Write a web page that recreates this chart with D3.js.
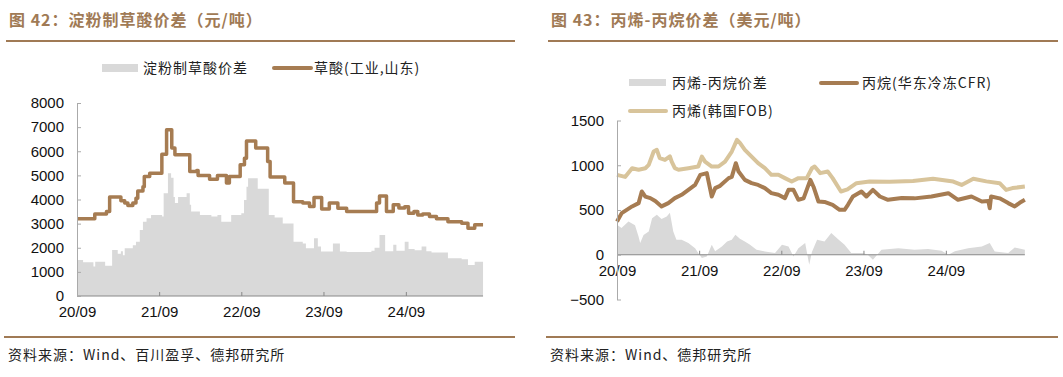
<html>
<head>
  <meta charset="utf-8">
  <title>价差图</title>
  <script src="https://d3js.org/d3.v7.min.js"></script>
  <style type="text/css">
    body { margin: 0; background: #fff; }
    text { font-family: "Liberation Sans", Arial, sans-serif; }
    .title { font-family: "Noto Sans CJK SC", sans-serif; font-weight: bold; font-size: 16px; fill: #a07a55; letter-spacing: 1px; }
    .legend { font-family: "Noto Sans CJK SC", sans-serif; font-size: 14px; fill: #222; letter-spacing: 1px; }
    .source { font-family: "Noto Sans CJK SC", sans-serif; font-size: 14px; fill: #222; letter-spacing: 1px; }
    .tick text { font-size: 15px; fill: #111; }
  </style>
</head>
<body>
<script>
// ---- 图42 数据 ----
var oxDates = ["2020-09-01","2020-11-19","2021-01-10","2021-01-24","2021-02-24","2021-03-15","2021-04-01","2021-04-15",
  "2021-05-07","2021-05-21","2021-05-29","2021-06-21","2021-06-27","2021-07-21","2021-09-13","2021-10-04","2021-10-27",
  "2021-11-10","2022-01-15","2022-02-15","2022-02-21","2022-04-13","2022-05-18","2022-06-27","2022-07-10","2022-08-27",
  "2022-09-15","2022-09-24","2022-11-04","2022-12-27","2023-01-07","2023-03-13","2023-04-21","2023-06-01","2023-07-01",
  "2023-07-21","2023-08-24","2023-09-27","2023-11-04","2023-12-13","2024-04-01","2024-04-24","2024-05-07","2024-06-07",
  "2024-07-07","2024-08-01","2024-08-27","2024-09-13","2024-10-07","2024-10-24","2024-11-15","2024-12-15","2025-01-15",
  "2025-03-07","2025-05-07","2025-06-04","2025-07-04","2025-08-10"];
var oxPrice = [3200,3400,3500,4100,4100,3950,3850,3750,3850,4050,4350,4530,4950,5090,5880,6890,6130,5850,5160,5200,4990,
  4840,5000,4680,4950,5440,5710,6430,6130,5570,4930,4680,3910,3850,3710,4080,3610,3850,3640,3500,3500,3850,4150,3500,
  3780,3650,3700,3430,3500,3360,3400,3300,3200,3080,3020,2810,2950,2950];

var spDates = ["2020-09-01","2020-09-28","2020-11-13","2020-11-21","2021-01-04","2021-02-04","2021-03-01","2021-03-15",
  "2021-03-24","2021-04-01","2021-05-07","2021-05-21","2021-06-07","2021-06-21","2021-07-07","2021-07-27","2021-09-14",
  "2021-09-21","2021-10-10","2021-10-24","2021-11-04","2021-11-10","2021-11-24","2022-01-01","2022-01-15","2022-01-21",
  "2022-03-01","2022-04-21","2022-05-18","2022-06-04","2022-07-18","2022-09-01","2022-09-13","2022-09-24","2022-10-01",
  "2022-11-13","2023-01-01","2023-01-27","2023-03-04","2023-04-21","2023-06-01","2023-06-15","2023-07-21","2023-08-07",
  "2023-08-21","2023-10-13","2023-11-13","2023-12-13","2024-04-01","2024-04-15","2024-05-07","2024-06-01","2024-07-07",
  "2024-07-21","2024-08-27","2024-09-13","2024-10-10","2024-11-10","2024-12-01","2024-12-24","2025-03-07","2025-05-07",
  "2025-06-04","2025-07-04","2025-08-10"];
var spValue = [1490,1400,1220,1420,1250,1910,1750,1850,1690,1980,2100,2250,2740,3080,3220,3360,3300,4260,5090,4900,4100,
  3850,4100,4260,3780,3500,3360,3300,3360,3080,3360,3430,3980,4530,4880,4450,3360,3250,3010,2250,2180,1980,2390,2050,
  1840,2180,1840,1820,1880,2000,2530,1850,2120,1880,2250,1950,1900,2050,1850,1800,1560,1520,1290,1420,1380];

var leftYTicks = [0,1000,2000,3000,4000,5000,6000,7000,8000];

// ---- 图43 数据 ----
var fobDates = ["2020-09-01","2020-10-07","2020-11-07","2020-12-06","2021-01-05","2021-01-20","2021-02-11","2021-02-25",
  "2021-03-10","2021-04-02","2021-04-24","2021-05-02","2021-05-16","2021-06-01","2021-07-15","2021-08-28","2021-09-13",
  "2021-09-27","2021-10-27","2021-11-26","2021-12-25","2022-01-24","2022-02-16","2022-03-01","2022-03-23","2022-04-22",
  "2022-05-21","2022-06-20","2022-07-19","2022-08-19","2022-09-17","2022-10-17","2022-11-16","2022-12-23","2023-01-15",
  "2023-01-27","2023-02-21","2023-03-26","2023-04-17","2023-05-24","2023-06-22","2023-08-01","2023-09-28","2023-12-26",
  "2024-04-08","2024-07-06","2024-10-04","2024-11-10","2025-01-01","2025-02-28","2025-04-28","2025-05-27","2025-06-24",
  "2025-08-18"];
var fobValue = [893,870,967,950,967,1004,1153,1172,1079,1060,1100,1040,967,950,967,986,1097,1040,986,986,1041,1153,1283,
  1250,1172,1097,1023,967,893,893,856,818,856,856,967,986,912,930,856,707,730,800,818,815,825,850,818,780,850,820,800,
  725,745,762];

var cfrDates = ["2020-09-01","2020-09-22","2020-11-07","2020-12-06","2020-12-20","2021-01-05","2021-01-27","2021-02-18",
  "2021-03-18","2021-04-17","2021-05-16","2021-06-15","2021-07-15","2021-08-14","2021-09-06","2021-10-05","2021-10-27",
  "2021-11-11","2021-12-03","2022-01-10","2022-01-24","2022-02-11","2022-02-23","2022-03-23","2022-04-22","2022-05-21",
  "2022-06-20","2022-07-19","2022-08-19","2022-09-17","2022-10-03","2022-10-25","2022-11-16","2022-12-09","2023-01-08",
  "2023-01-22","2023-02-13","2023-03-12","2023-04-17","2023-05-18","2023-06-09","2023-06-24","2023-07-16","2023-08-23",
  "2023-09-14","2023-10-13","2023-11-13","2023-12-19","2024-02-18","2024-04-15","2024-06-29","2024-09-12","2024-10-25",
  "2024-12-24","2025-02-08","2025-03-09","2025-03-15","2025-03-21","2025-04-28","2025-06-05","2025-07-04","2025-07-26",
  "2025-08-18"];
var cfrValue = [372,465,540,577,707,650,633,600,540,577,633,670,725,781,893,912,651,744,770,856,870,1023,930,837,800,780,
  744,688,670,633,725,725,614,630,837,760,595,590,558,502,502,558,651,707,651,725,651,614,633,630,651,688,614,651,595,
  600,520,651,630,577,540,580,614];

var gapDates = ["2020-09-01","2020-09-21","2020-10-22","2020-11-20","2020-12-06","2020-12-13","2020-12-28","2021-01-20",
  "2021-02-04","2021-02-25","2021-03-18","2021-04-10","2021-04-24","2021-05-09","2021-05-23","2021-06-15","2021-07-15",
  "2021-08-14","2021-08-28","2021-09-13","2021-10-05","2021-10-27","2021-11-11","2021-12-11","2022-01-03","2022-01-24",
  "2022-02-09","2022-03-01","2022-03-23","2022-04-15","2022-05-14","2022-06-20","2022-08-04","2022-09-04","2022-10-03",
  "2022-10-25","2022-11-16","2022-12-16","2023-01-03","2023-01-15","2023-02-07","2023-03-12","2023-04-11","2023-05-09",
  "2023-06-09","2023-07-09","2023-08-30","2023-09-20","2023-10-13","2023-11-20","2024-02-03","2024-04-15","2024-06-14",
  "2024-08-13","2024-09-12","2024-10-11","2024-12-09","2025-02-08","2025-03-15","2025-04-06","2025-06-05","2025-07-04",
  "2025-08-18"];
var gapValue = [335,300,372,330,200,130,220,260,409,446,400,428,470,260,167,167,130,74,20,-37,-20,112,40,93,149,167,223,
  180,149,112,56,37,20,112,93,-19,74,130,-112,30,167,149,242,180,112,19,19,0,-56,56,74,56,65,45,0,40,74,93,130,37,20,
  82,56];

var rightYTicks = [-500,0,500,1000,1500];
var yearTicks = ["2020-09-01","2021-09-01","2022-09-01","2023-09-01","2024-09-01"];

var brown = "#a67c52",
    light = "#d8c49b",
    grey = "#d9d9d9",
    titleColor = "#a07a55";

var parse = d3.timeParse("%Y-%m-%d");
function zip(ds, vs) { return ds.map(function(d, i) { return { date: parse(d), value: vs[i] }; }); }

var svg = d3.select("body").append("svg")
    .attr("width", 1063)
    .attr("height", 377);

// titles and rules
function frame(x0, x1, title, source) {
  svg.append("text").attr("class", "title").attr("x", x0 + 3).attr("y", 26).text(title);
  svg.append("line").attr("x1", x0).attr("x2", x1).attr("y1", 41).attr("y2", 41)
    .attr("stroke", titleColor).attr("stroke-width", 2);
  svg.append("line").attr("x1", x0 - 2).attr("x2", x1).attr("y1", 337).attr("y2", 337)
    .attr("stroke", titleColor).attr("stroke-width", 2);
  svg.append("text").attr("class", "source").attr("x", x0 + 2).attr("y", 360).text(source);
}
frame(6, 515, "图 42：淀粉制草酸价差（元/吨）", "资料来源：Wind、百川盈孚、德邦研究所");
frame(548, 1058, "图 43：丙烯-丙烷价差（美元/吨）", "资料来源：Wind、德邦研究所");

function axes(g, x, y, yTicks, baseY, xEnd) {
  var xa = g.append("g").attr("transform", "translate(0," + baseY + ")")
    .call(d3.axisBottom(x).tickValues(yearTicks.map(parse)).tickFormat(d3.timeFormat("%y/%m"))
      .tickSize(-4).tickSizeOuter(0).tickPadding(8));
  xa.select(".domain").remove();
  xa.append("line").attr("x1", x.range()[0]).attr("x2", xEnd).attr("stroke", "#888");
  xa.selectAll(".tick line").attr("stroke", "#888");
  xa.selectAll(".tick text").attr("dy", "0.85em");

  var ya = g.append("g").attr("transform", "translate(" + x.range()[0] + ",0)")
    .call(d3.axisLeft(y).tickValues(yTicks).tickFormat(d3.format("d"))
      .tickSize(-4).tickSizeOuter(0).tickPadding(13));
  ya.select(".domain").attr("stroke", "#aaa");
  ya.selectAll(".tick line").attr("stroke", "#aaa");
}

// ---- 左图 ----
var ox = zip(oxDates, oxPrice), sp = zip(spDates, spValue);
var xL = d3.scaleTime().domain([parse("2020-09-01"), parse("2025-09-01")]).range([77, 488]);
var yL = d3.scaleLinear().domain([0, 8000]).range([296, 103]);
var gL = svg.append("g");

gL.append("path").datum(sp)
  .attr("fill", grey)
  .attr("d", d3.area().curve(d3.curveStepAfter).x(function(d) { return xL(d.date); })
    .y0(yL(0)).y1(function(d) { return yL(d.value); }));
gL.append("path").datum(ox)
  .attr("fill", "none").attr("stroke", brown).attr("stroke-width", 3.5).attr("stroke-linejoin", "round")
  .attr("d", d3.line().curve(d3.curveStepAfter).x(function(d) { return xL(d.date); })
    .y(function(d) { return yL(d.value); }));
axes(gL, xL, yL, leftYTicks, 296, xL(parse(oxDates[oxDates.length - 1])));

// legend left
svg.append("rect").attr("x", 102).attr("y", 64).attr("width", 36).attr("height", 8).attr("fill", grey);
svg.append("text").attr("class", "legend").attr("x", 143).attr("y", 73).text("淀粉制草酸价差");
svg.append("line").attr("x1", 274).attr("x2", 311).attr("y1", 68).attr("y2", 68)
  .attr("stroke", brown).attr("stroke-width", 4).attr("stroke-linecap", "round");
svg.append("text").attr("class", "legend").attr("x", 314).attr("y", 73).text("草酸(工业,山东)");

// ---- 右图 ----
var fob = zip(fobDates, fobValue), cfr = zip(cfrDates, cfrValue), gap = zip(gapDates, gapValue);
var xR = d3.scaleTime().domain([parse("2020-09-01"), parse("2025-09-01")]).range([617, 1028]);
var yR = d3.scaleLinear().domain([-500, 1500]).range([299.5, 120.5]);
var gR = svg.append("g");

gR.append("path").datum(gap)
  .attr("fill", grey)
  .attr("d", d3.area().x(function(d) { return xR(d.date); })
    .y0(yR(0)).y1(function(d) { return yR(d.value); }));
var lineR = d3.line().x(function(d) { return xR(d.date); }).y(function(d) { return yR(d.value); });
gR.append("path").datum(fob)
  .attr("fill", "none").attr("stroke", light).attr("stroke-width", 4).attr("stroke-linejoin", "round")
  .attr("d", lineR);
gR.append("path").datum(cfr)
  .attr("fill", "none").attr("stroke", brown).attr("stroke-width", 4).attr("stroke-linejoin", "round")
  .attr("d", lineR);
axes(gR, xR, yR, rightYTicks, yR(0), xR(parse(gapDates[gapDates.length - 1])));

// legend right
svg.append("rect").attr("x", 629).attr("y", 79).attr("width", 37).attr("height", 7).attr("fill", grey);
svg.append("text").attr("class", "legend").attr("x", 672).attr("y", 88).text("丙烯-丙烷价差");
svg.append("line").attr("x1", 821).attr("x2", 857).attr("y1", 83).attr("y2", 83)
  .attr("stroke", brown).attr("stroke-width", 4).attr("stroke-linecap", "round");
svg.append("text").attr("class", "legend").attr("x", 862).attr("y", 88).text("丙烷(华东冷冻CFR)");
svg.append("line").attr("x1", 630).attr("x2", 666).attr("y1", 111).attr("y2", 111)
  .attr("stroke", light).attr("stroke-width", 4).attr("stroke-linecap", "round");
svg.append("text").attr("class", "legend").attr("x", 672).attr("y", 116).text("丙烯(韩国FOB)");
</script>
</body>
</html>
